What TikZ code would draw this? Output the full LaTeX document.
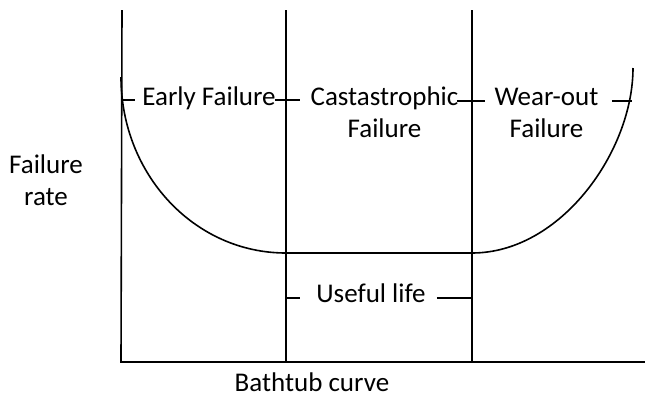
\documentclass[tikz,border=0pt]{standalone}
\usepackage{fontspec}
\setmainfont{Carlito}
\usetikzlibrary{positioning}

\begin{document}
\begin{tikzpicture}[x=0.5pt,y=-0.5pt,line width=0.8pt,
  lbl/.style={font=\fontsize{13.5}{16}\selectfont,align=center,inner sep=0pt,anchor=base}]
\useasboundingbox (0,0) rectangle (645,403);
% axes and region dividers
\coordinate (top) at (122,10);
\coordinate (o) at (121,362);
\coordinate (end) at (645,362);
\coordinate (a1) at (286,10);\coordinate (a2) at (286,362);
\coordinate (b1) at (472,10);\coordinate (b2) at (472,362);
\draw (top)--(o)--(end);
\draw (a1)--(a2);
\draw (b1)--(b2);
% bathtub
\coordinate (c0) at (121,77);\coordinate (c1) at (286,253);
\coordinate (c2) at (472,253);\coordinate (c3) at (633,68);
\draw (c0) .. controls (121,174) and (194,253) .. (c1) -- (c2)
  .. controls (561,253) and (633,151) .. (c3);
% labels (base = last line)
\node[lbl] (early) at (209,105) {Early Failure};
\node[lbl] (cat) at (384.5,137) {Castastrophic\\Failure};
\node[lbl] (wear) at (546.5,137) {Wear-out\\Failure};
\node[lbl] (useful) at (371,302) {Useful life};
\node[lbl] (rate) at (46,205) {Failure\\rate};
\node[lbl] (title) at (312,391) {Bathtub curve};
% ticks
\draw (121,100)--(135,100);
\draw (275,100)--(300,100);
\draw (457,101)--(485,101);
\draw (612,101)--(632,101);
\draw (286,298)--(300,298);
\draw (437,298)--(473,298);
\end{tikzpicture}
\end{document}
